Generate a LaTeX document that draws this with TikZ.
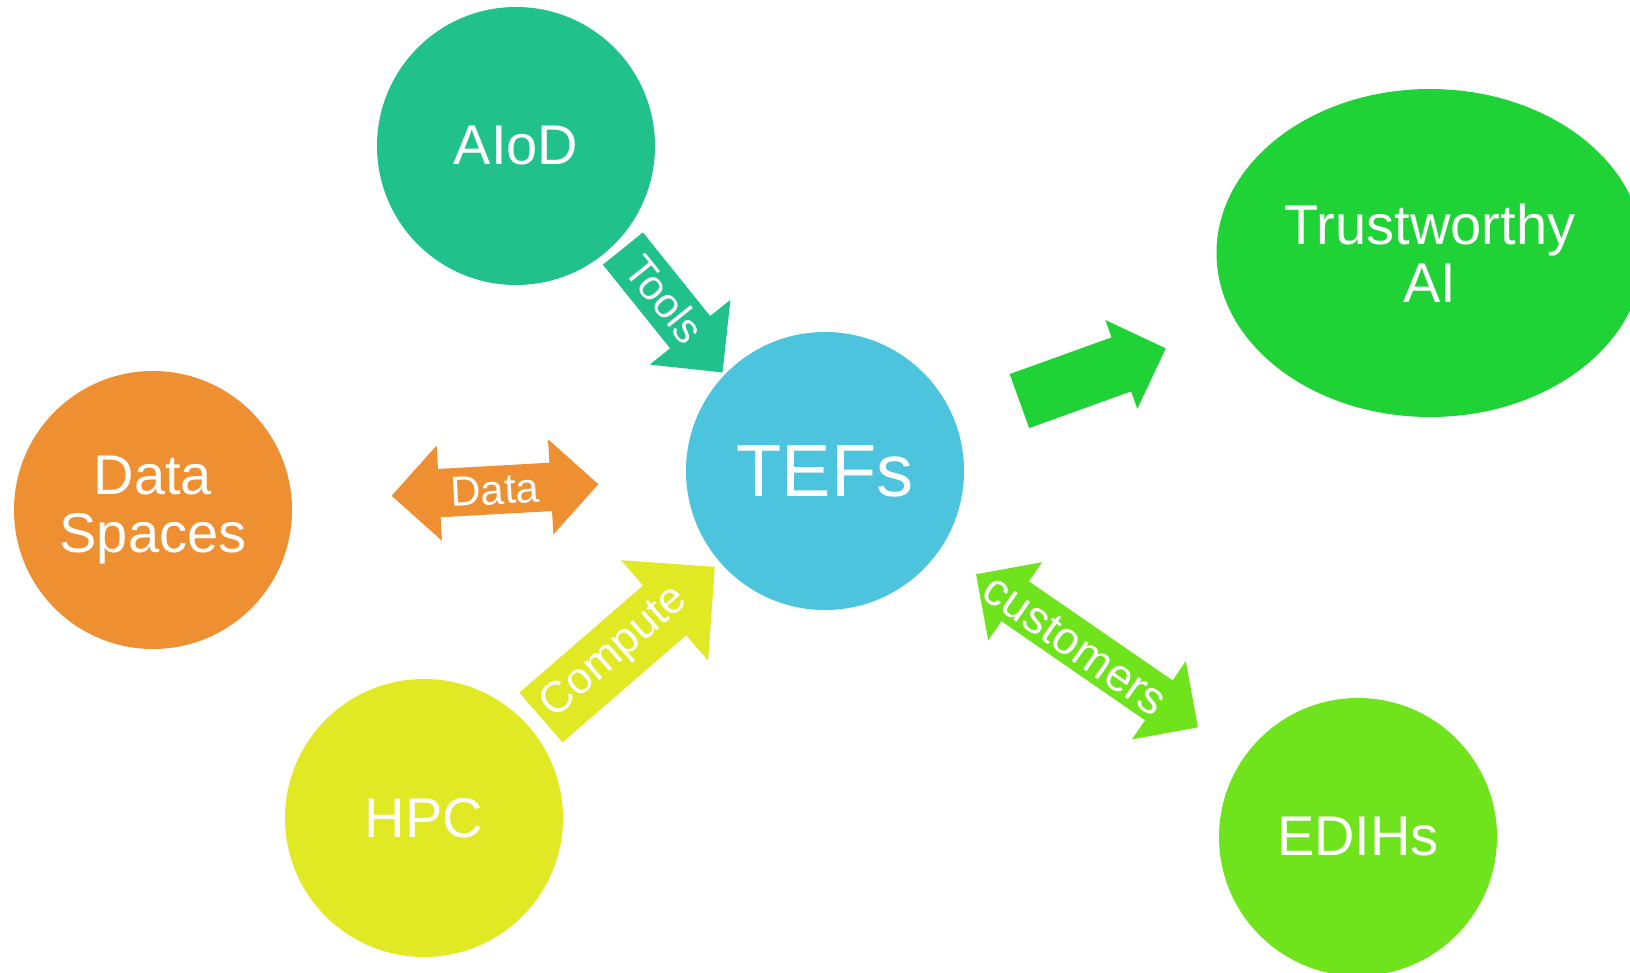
\documentclass[tikz,border=0pt]{standalone}
\usepackage{fontspec}
\setmainfont{Liberation Sans}
\usetikzlibrary{shapes.geometric, shapes.arrows}
\definecolor{aiodcol}{HTML}{20C18B}
\definecolor{datacol}{HTML}{EE8F32}
\definecolor{tefcol}{HTML}{4DC4DE}
\definecolor{hpccol}{HTML}{E0E923}
\definecolor{edihcol}{HTML}{6FE31B}
\definecolor{taicol}{HTML}{1FD235}
\tikzset{
x=1pt, y=-1pt, % pixel units, y pointing down
hub/.style={circle, minimum size=278pt, inner sep=0pt, text=white, align=center, font=\fontsize{56}{58}\selectfont}, % the big discs
flow/.style={single arrow, inner xsep=0pt, single arrow head extend=#1, anchor=tip}, % block arrow, placed by its tip
both/.style={double arrow, inner xsep=0pt, double arrow head extend=#1}, % two-headed block arrow
lbl/.style={text=white, inner sep=0pt, font=\fontsize{42}{44}\selectfont}, % text on the arrows
}
\begin{document}
\begin{tikzpicture}
                \useasboundingbox (0,0) rectangle (1630,973);
                \node[hub, fill=aiodcol] (aiod) at (516,146) {AIoD};
                \node[hub, fill=datacol] (dsp) at (153,510) {Data\\Spaces};
                \node[hub, fill=tefcol, font=\fontsize{74}{76}\selectfont] (tefs) at (825,471) {TEFs};
                \node[hub, fill=hpccol] (hpc) at (424,818) {HPC};
                \node[hub, fill=edihcol] (edih) at (1358,837) {EDIHs};
                \node[ellipse, fill=taicol, minimum width=427pt, minimum height=328pt, inner sep=0pt,
                      text=white, align=center, font=\fontsize{56}{58}\selectfont] (tai) at (1430,253) {Trustworthy\\AI};

                \node[flow=26pt, fill=aiodcol, inner ysep=25.5pt, minimum height=159pt, rotate=-51.2] (a1) at (722.7,372.7) {};
                \node[both=23.5pt, fill=datacol, inner ysep=24pt, minimum height=207pt, rotate=3.2] (a2) at (495,490) {};
                \node[flow=33.5pt, fill=hpccol, inner ysep=32.7pt, minimum height=230pt, rotate=40.9] (a3) at (715,566.7) {};
                \node[both=23.3pt, fill=edihcol, inner ysep=24pt, minimum height=269.5pt, rotate=-34.6] (a4) at (1087,650.8) {};
                \node[flow=18.5pt, fill=taicol, inner ysep=28.5pt, minimum height=155.5pt, rotate=19.8] (a5) at (1166,348.3) {};

                \node[lbl, rotate=-51.2] (l1) at (665,299) {Tools};
                \node[lbl, rotate=3.2] (l2) at (495,490) {Data};
                \node[lbl, rotate=41, font=\fontsize{44}{46}\selectfont] (l3) at (615,653) {Compute};
                \node[lbl, rotate=-35, font=\fontsize{46}{48}\selectfont] (l4) at (1075,645) {customers};
\end{tikzpicture}
\end{document}
